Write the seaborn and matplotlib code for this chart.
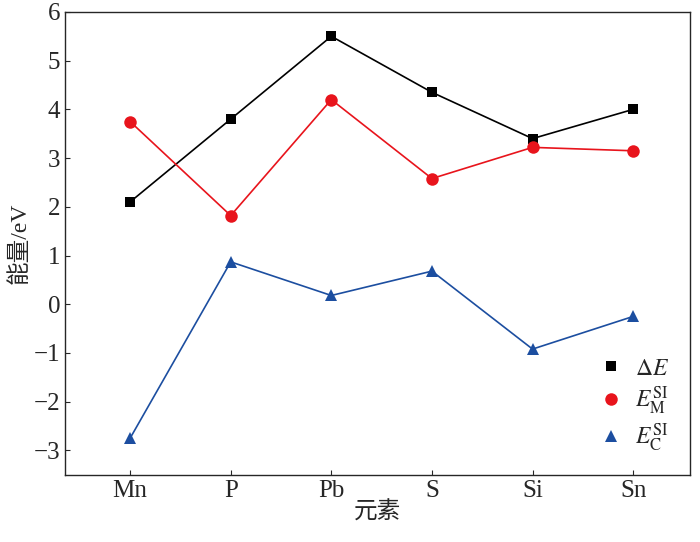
import matplotlib
matplotlib.use("Agg")
import matplotlib.pyplot as plt
from matplotlib.lines import Line2D
import seaborn as sb
import pandas as pd

elements = ["Mn", "P", "Pb", "S", "Si", "Sn"]
delta_e = [2.1, 3.8, 5.5, 4.35, 3.4, 4.0]
e_m = [3.75, 1.82, 4.2, 2.58, 3.22, 3.15]
e_c = [-2.75, 0.87, 0.18, 0.68, -0.92, -0.25]

sb.set_style("ticks")
plt.rcParams['font.family'] = ['Liberation Serif', 'Noto Sans CJK SC']
plt.rcParams['mathtext.fontset'] = 'stix'
plt.rcParams['xtick.direction'] = 'in'
plt.rcParams['ytick.direction'] = 'in'

df = pd.DataFrame({"x": range(len(elements)), "d": delta_e, "m": e_m, "c": e_c})

fig = plt.figure(figsize=(7, 5.42), dpi=100)
ax = fig.add_axes([0.093, 0.124, 0.893, 0.854])
series = [("d", "black", "s", r"$\Delta E$"),
          ("m", "#e8141c", "o", r"$E_{\mathrm{M}}^{\mathrm{SI}}$"),
          ("c", "#1c4ea0", "^", r"$E_{\mathrm{C}}^{\mathrm{SI}}$")]
handles = []
for col, color, mk, lab in series:
    ms = 9 if mk != "s" else 7
    sb.lineplot(data=df, x="x", y=col, ax=ax, color=color, marker=mk,
                markersize=ms, markeredgewidth=0, linewidth=1.2, legend=False)
    handles.append(Line2D([], [], color=color, marker=mk, linestyle="none",
                          markersize=ms, markeredgewidth=0, label=lab))

ax.set_xlim(-0.646, 5.567)
ax.set_ylim(-3.5, 6)
ax.set_xticks(range(len(elements)))
ax.set_xticklabels(elements, fontsize=18)
ax.set_yticks(range(-3, 7))
ax.set_yticklabels([str(v).replace("-", "\u2212") for v in range(-3, 7)], fontsize=18)
ax.set_xlabel("元素", fontsize=17, labelpad=0)
ax.set_ylabel("能量/eV", fontsize=17, labelpad=2)
for s in ax.spines.values():
    s.set_linewidth(1.0)
ax.legend(handles=handles, loc="lower right", frameon=False, fontsize=17,
          handlelength=0.8, handletextpad=0.6, labelspacing=0.2)
fig.savefig("out.png")
